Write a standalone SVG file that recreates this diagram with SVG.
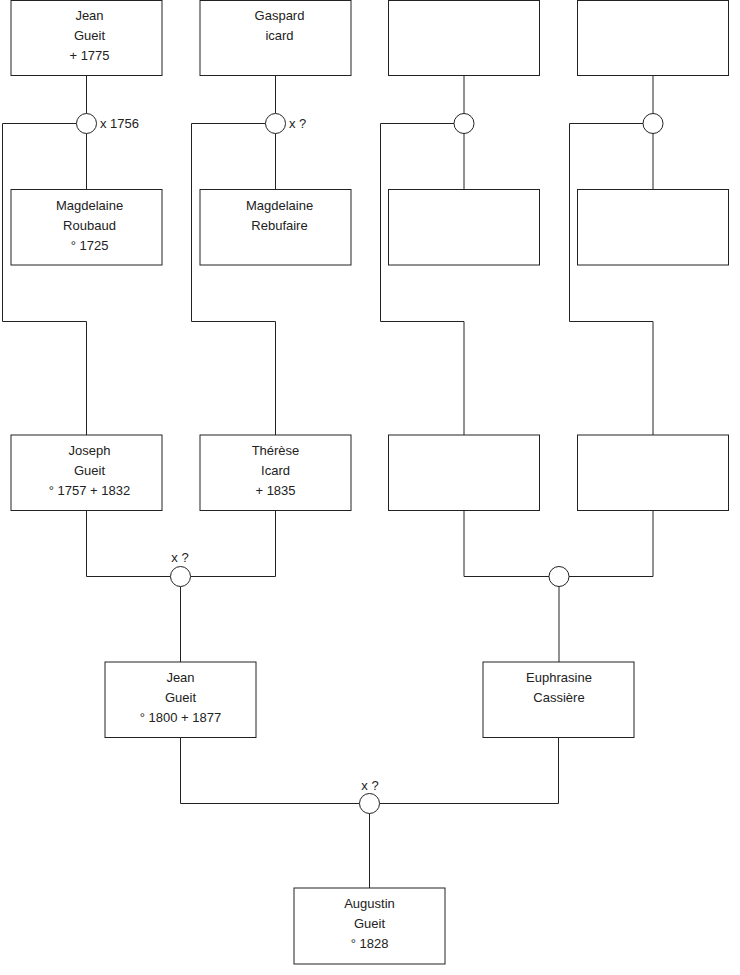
<svg xmlns="http://www.w3.org/2000/svg" width="740" height="975" viewBox="0 0 740 975">
<style>
.box{fill:#fff;stroke:#222;stroke-width:1}
.ln{fill:none;stroke:#222;stroke-width:1}
.ring{fill:#fff;stroke:#222;stroke-width:1}
text{font-family:"Liberation Sans",Arial,sans-serif;font-size:13px;fill:#222}
.c{text-anchor:middle}
</style>
<rect width="740" height="975" fill="#fff"/>
<g id="connectors">
<path class="ln" d="M86.5 75.5V113.5M86.5 133.5V189.5M76.5 123.5H2.5V321.5H86.5V435"/>
<path class="ln" d="M275.5 75.5V113.5M275.5 133.5V189.5M265.5 123.5H191.5V321.5H275.5V435"/>
<path class="ln" d="M464 75.5V113.5M464 133.5V189.5M454 123.5H380.5V321.5H464V435"/>
<path class="ln" d="M653 75.5V113.5M653 133.5V189.5M643 123.5H569.5V321.5H653V435"/>
<path class="ln" d="M86.5 510.5V576.5H170.5M190.5 576.5H275.5V510.5M180.5 586.5V662"/>
<path class="ln" d="M464 510.5V576.5H549M569 576.5H653V510.5M559 586.5V662"/>
<path class="ln" d="M180.5 737.5V803.5H359.5M379.5 803.5H558.5V737.5M369.5 813.5V888"/>
<circle class="ring" cx="86.5" cy="123.5" r="10"/>
<circle class="ring" cx="275.5" cy="123.5" r="10"/>
<circle class="ring" cx="464" cy="123.5" r="10"/>
<circle class="ring" cx="653" cy="123.5" r="10"/>
<circle class="ring" cx="180.5" cy="576.5" r="10"/>
<circle class="ring" cx="559" cy="576.5" r="10"/>
<circle class="ring" cx="369.5" cy="803.5" r="10"/>
<text x="100" y="128">x 1756</text>
<text x="289" y="128">x ?</text>
<text class="c" x="180" y="562">x ?</text>
<text class="c" x="370" y="790">x ?</text>
</g>
<g id="n-jean-1775"><rect class="box" x="11" y="0.5" width="151" height="75"/>
<text class="c" x="89.5" y="20">Jean</text><text class="c" x="89.5" y="40">Gueit</text><text class="c" x="89.5" y="60">+ 1775</text></g>
<g id="n-gaspard"><rect class="box" x="200" y="0.5" width="151" height="75"/>
<text class="c" x="279.5" y="20">Gaspard</text><text class="c" x="279.5" y="40">icard</text></g>
<g id="n-empty1"><rect class="box" x="388.5" y="0.5" width="151" height="75"/></g>
<g id="n-empty2"><rect class="box" x="577.5" y="0.5" width="151" height="75"/></g>
<g id="n-magdelaine-roubaud"><rect class="box" x="11" y="189.5" width="151" height="75.5"/>
<text class="c" x="89.5" y="209.5">Magdelaine</text><text class="c" x="89.5" y="229.5">Roubaud</text><text class="c" x="89.5" y="249.5">° 1725</text></g>
<g id="n-magdelaine-rebufaire"><rect class="box" x="200" y="189.5" width="151" height="75.5"/>
<text class="c" x="279.5" y="209.5">Magdelaine</text><text class="c" x="279.5" y="229.5">Rebufaire</text></g>
<g id="n-empty3"><rect class="box" x="388.5" y="189.5" width="151" height="75.5"/></g>
<g id="n-empty4"><rect class="box" x="577.5" y="189.5" width="151" height="75.5"/></g>
<g id="n-joseph"><rect class="box" x="11" y="435" width="151" height="75.5"/>
<text class="c" x="89.5" y="455">Joseph</text><text class="c" x="89.5" y="475">Gueit</text><text class="c" x="89.5" y="495">° 1757 + 1832</text></g>
<g id="n-therese"><rect class="box" x="200" y="435" width="151" height="75.5"/>
<text class="c" x="275.5" y="455">Thérèse</text><text class="c" x="275.5" y="475">Icard</text><text class="c" x="275.5" y="495">+ 1835</text></g>
<g id="n-empty5"><rect class="box" x="388.5" y="435" width="151" height="75.5"/></g>
<g id="n-empty6"><rect class="box" x="577.5" y="435" width="151" height="75.5"/></g>
<g id="n-jean-1800"><rect class="box" x="105" y="662" width="151" height="75.5"/>
<text class="c" x="180.5" y="682">Jean</text><text class="c" x="180.5" y="702">Gueit</text><text class="c" x="180.5" y="722">° 1800 + 1877</text></g>
<g id="n-euphrasine"><rect class="box" x="483" y="662" width="151" height="75.5"/>
<text class="c" x="559" y="682">Euphrasine</text><text class="c" x="559" y="702">Cassière</text></g>
<g id="n-augustin"><rect class="box" x="294" y="888" width="151" height="76"/>
<text class="c" x="369.5" y="908">Augustin</text><text class="c" x="369.5" y="928">Gueit</text><text class="c" x="369.5" y="948">° 1828</text></g>
</svg>
